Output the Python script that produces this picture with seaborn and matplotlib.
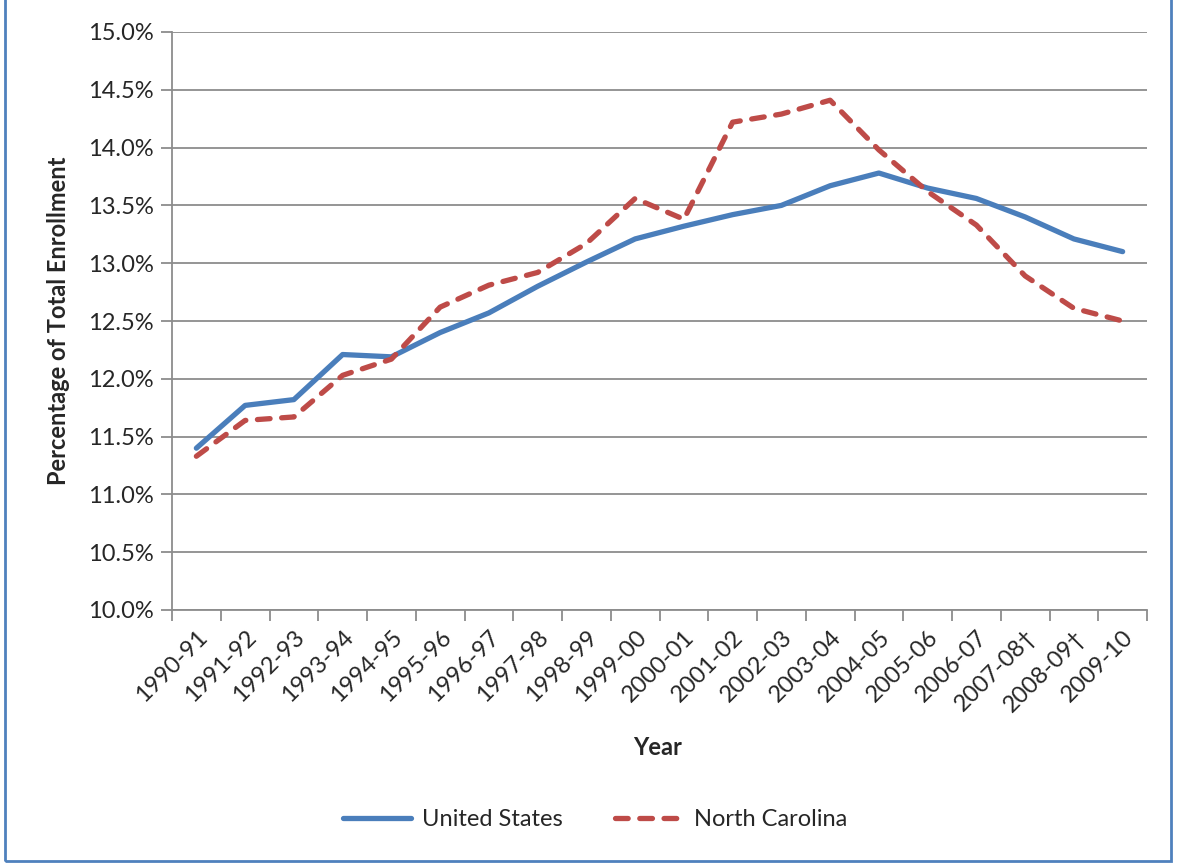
import matplotlib
matplotlib.use("Agg")
import matplotlib.pyplot as plt
import seaborn as sns
import pandas as pd
from matplotlib.patches import Rectangle
from matplotlib.ticker import FuncFormatter

# school years on the x axis
years = ["1990-91", "1991-92", "1992-93", "1993-94", "1994-95", "1995-96",
         "1996-97", "1997-98", "1998-99", "1999-00", "2000-01", "2001-02",
         "2002-03", "2003-04", "2004-05", "2005-06", "2006-07", "2007-08\u2020",
         "2008-09\u2020", "2009-10"]

# percentage of total enrollment
us = [11.40, 11.77, 11.82, 12.21, 12.19, 12.40, 12.57, 12.80, 13.01, 13.21,
      13.32, 13.42, 13.50, 13.67, 13.78, 13.65, 13.56, 13.40, 13.21, 13.10]
nc = [11.33, 11.64, 11.67, 12.03, 12.17, 12.62, 12.81, 12.92, 13.17, 13.56,
      13.38, 14.22, 14.29, 14.41, 13.98, 13.62, 13.33, 12.89, 12.61, 12.50]

series_names = ["United States", "North Carolina"]

df = pd.DataFrame({
    "pos": list(range(len(years))) * 2,
    "value": us + nc,
    "series": [series_names[0]] * len(years) + [series_names[1]] * len(years),
})

sns.set_theme(style="white")
plt.rcParams["font.family"] = ["Lato", "DejaVu Sans"]
FS = 17

fig = plt.figure(figsize=(11.77, 8.67), dpi=100)
ax = fig.add_axes([172 / 1177, 1 - 610 / 867, (1147 - 172) / 1177, (610 - 32) / 867])

grid_c = "#8c8c8c"
LW = 3.8
NC_DASH = (2.4, 2.2)
sns.lineplot(
    data=df, x="pos", y="value", hue="series", style="series",
    palette={"United States": "#4a7ebb", "North Carolina": "#be4b48"},
    dashes={"United States": "", "North Carolina": NC_DASH},
    linewidth=LW, ax=ax, legend=False, sort=False,
)
for ln in ax.lines:
    ln.set_dash_capstyle("round")
    ln.set_solid_capstyle("round")

ax.set_xlim(-0.5, len(years) - 0.5)
ax.set_ylim(10.0, 15.0)
ax.set_yticks([10 + 0.5 * i for i in range(11)])
ax.yaxis.set_major_formatter(FuncFormatter(lambda v, p: f"{v:.1f}%"))
ax.yaxis.grid(True, color=grid_c, linewidth=1.3)
ax.set_axisbelow(True)

# tick marks between categories, labels at category centers
ax.set_xticks([i - 0.5 for i in range(len(years) + 1)])
ax.set_xticklabels([])
ax.set_xticks(range(len(years)), minor=True)
ax.set_xticklabels(years, minor=True, rotation=45, ha="right",
                   rotation_mode="anchor", fontsize=FS)
ax.tick_params(axis="x", which="major", length=8, width=1.3, color=grid_c,
               direction="out", bottom=True)
ax.tick_params(axis="x", which="minor", length=0, pad=12)
ax.tick_params(axis="y", length=8, width=1.3, color=grid_c, direction="out",
               left=True, labelsize=FS, pad=5)

for side in ["top", "right"]:
    ax.spines[side].set_visible(False)
for side in ["left", "bottom"]:
    ax.spines[side].set_color(grid_c)
    ax.spines[side].set_linewidth(1.3)

ax.set_xlabel("Year", fontsize=FS, fontweight="bold")
ax.set_ylabel("Percentage of Total Enrollment", fontsize=FS, fontweight="bold")
ax.xaxis.set_label_coords((658 - 172) / (1147 - 172), -(736 - 610) / (610 - 32))
ax.yaxis.set_label_coords(-(172 - 70) / (1147 - 172), 0.5)

handles = [
    plt.Line2D([], [], color="#4a7ebb", linewidth=LW, solid_capstyle="round"),
    plt.Line2D([], [], color="#be4b48", linewidth=LW, linestyle=(0, NC_DASH),
               dash_capstyle="round"),
]
fig.legend(handles, series_names, loc="center", bbox_to_anchor=(595 / 1177, 1 - 820 / 867),
           ncol=2, frameon=False, fontsize=FS, handlelength=2.9, columnspacing=2.2,
           handletextpad=0.45)

fig.patches.append(Rectangle((5 / 1177, 6 / 867), 1166 / 1177, 1.0, transform=fig.transFigure,
                             fill=False, edgecolor="#4f81bd", linewidth=2))

fig.savefig("out.png", dpi=100)
